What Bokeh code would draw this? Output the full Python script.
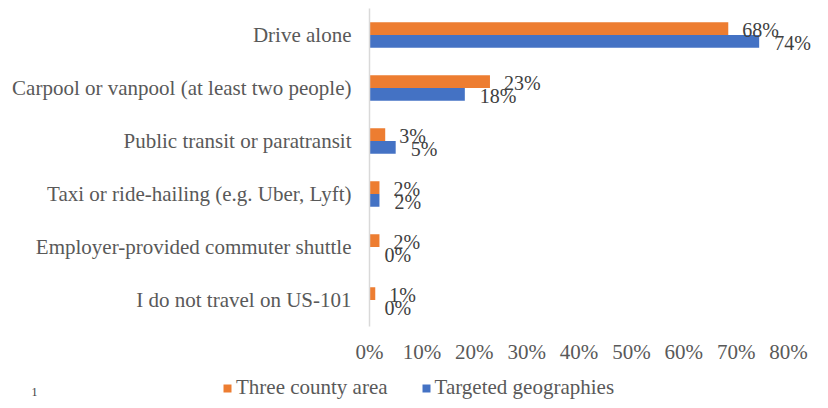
from bokeh.plotting import figure
from bokeh.models import FactorRange, Range1d, FixedTicker, NumeralTickFormatter, ColumnDataSource, Label, Legend, LegendItem
from bokeh.transform import dodge
from bokeh.core.properties import value
from bokeh.embed import file_html
from bokeh.resources import INLINE

categories = ["Drive alone", "Carpool or vanpool (at least two people)", "Public transit or paratransit",
              "Taxi or ride-hailing (e.g. Uber, Lyft)", "Employer-provided commuter shuttle",
              "I do not travel on US-101"]
three_county = [0.685, 0.23, 0.03, 0.019, 0.019, 0.011]
targeted = [0.744, 0.182, 0.05, 0.019, 0.0, 0.0]
three_county_labels = ["68%", "23%", "3%", "2%", "2%", "1%"]
targeted_labels = ["74%", "18%", "5%", "2%", "0%", "0%"]
x_ticks = [0, 0.1, 0.2, 0.3, 0.4, 0.5, 0.6, 0.7, 0.8]
series_names = ["Three county area", "Targeted geographies"]

ORANGE = "#ED7D31"
BLUE = "#4472C4"
TEXT = "#595959"
FONT = "Liberation Serif"

src = ColumnDataSource(dict(cat=categories, tc=three_county, tg=targeted,
                            tcl=three_county_labels, tgl=targeted_labels))

W = 812
p = figure(width=W, height=366, output_backend="svg", toolbar_location=None,
           y_range=FactorRange(factors=list(reversed(categories)), range_padding=0),
           x_range=Range1d(0, 0.8 * (W - 369) / 419),
           min_border_left=369, min_border_right=0, min_border_top=8, min_border_bottom=40)
p.outline_line_color = None
p.xgrid.visible = False
p.ygrid.visible = False

p.hbar(y=dodge("cat", 0.12, range=p.y_range), right="tc", left=0, height=0.24, source=src,
       fill_color=ORANGE, line_color=None)
p.hbar(y=dodge("cat", -0.12, range=p.y_range), right="tg", left=0, height=0.24, source=src,
       fill_color=BLUE, line_color=None)

p.text(x="tc", y=dodge("cat", 0.12, range=p.y_range), text="tcl", source=src, x_offset=14, y_offset=1.5,
       text_font=value(FONT), text_font_size="20px", text_color="#404040", text_baseline="middle")
p.text(x="tg", y=dodge("cat", -0.12, range=p.y_range), text="tgl", source=src, x_offset=15, y_offset=1.5,
       text_font=value(FONT), text_font_size="20px", text_color="#404040", text_baseline="middle")

xa = p.xaxis[0]
xa.ticker = FixedTicker(ticks=x_ticks)
xa.formatter = NumeralTickFormatter(format="0%")
xa.axis_line_color = None
xa.major_tick_line_color = None
xa.minor_tick_line_color = None
xa.major_tick_out = 0
xa.major_tick_in = 0
xa.minor_tick_out = 0
xa.major_label_standoff = 13
xa.major_label_text_font = FONT
xa.major_label_text_font_size = "21px"
xa.major_label_text_color = TEXT

ya = p.yaxis[0]
ya.axis_line_color = "#D9D9D9"
ya.axis_line_width = 1.5
ya.major_tick_line_color = None
ya.minor_tick_line_color = None
ya.major_tick_out = 0
ya.major_tick_in = 0
ya.minor_tick_out = 0
ya.major_label_standoff = 18
ya.major_label_text_font = FONT
ya.major_label_text_font_size = "21px"
ya.major_label_text_color = TEXT

# legend strip below the chart (separate root so its frame spans the full width)
QH = 34
q = figure(width=W, height=QH, output_backend="svg", toolbar_location=None,
           x_range=Range1d(0, W), y_range=Range1d(0, QH), x_axis_type=None, y_axis_type=None,
           min_border_left=0, min_border_right=0, min_border_top=0, min_border_bottom=0)
q.outline_line_color = None
q.xgrid.visible = False
q.ygrid.visible = False
key_src = ColumnDataSource(dict(name=series_names, y=[-10, -10], right=[0, 0]))
k1 = q.hbar(y="y", right="right", left=0, height=1, source=key_src, fill_color=ORANGE, line_color=None)
k2 = q.hbar(y="y", right="right", left=0, height=1, source=key_src, fill_color=BLUE, line_color=None)

lg = Legend(items=[LegendItem(label=series_names[0], renderers=[k1], index=0),
                   LegendItem(label=series_names[1], renderers=[k2], index=1)],
            location=(222, 0), orientation="horizontal",
            border_line_color=None, background_fill_alpha=0, padding=0, margin=0,
            spacing=33, glyph_width=10, glyph_height=10, label_standoff=4,
            label_text_font=FONT, label_text_font_size="21px", label_text_color=TEXT)
q.add_layout(lg, "center")

q.add_layout(Label(x=31, y=13, x_units="screen", y_units="screen", text="1",
                   text_font=FONT, text_font_size="12px", text_color="#404040", text_baseline="top"))

open("out.html", "w").write(file_html([p, q], INLINE))
